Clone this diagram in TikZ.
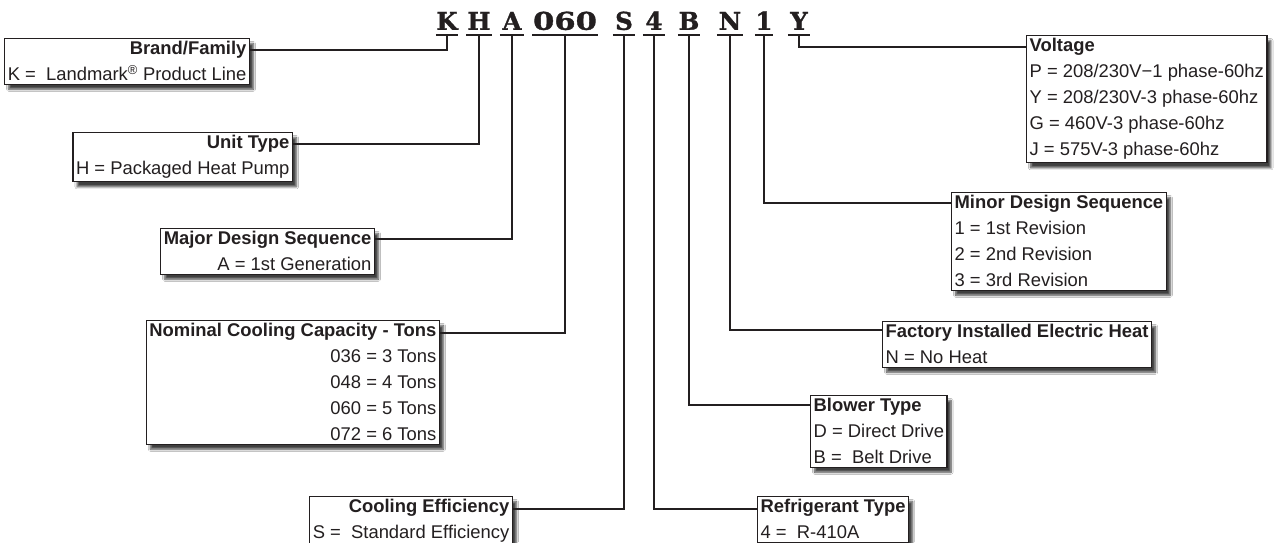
\documentclass[tikz,border=0pt]{standalone}
\usepackage{fontspec}
\setmainfont{Liberation Sans}
\newfontfamily\codefont{DejaVu Serif}[BoldFeatures={FakeBold=1.2}]
\usetikzlibrary{calc,shadows.blur}

\definecolor{ink}{HTML}{231F20}

\tikzset{
  legend/.style={draw=ink, line width=1.3pt, fill=white, text=ink,
    inner xsep=3pt, inner ysep=3pt, font=\fontsize{18.4}{26}\selectfont,
    blur shadow={shadow xshift=4pt, shadow yshift=-5pt, shadow blur steps=7, shadow opacity=75}},
  leftbox/.style={legend, align=right, anchor=north east},
  rightbox/.style={legend, align=left, anchor=north west},
  letter/.style={font=\codefont\bfseries\fontsize{24.5}{24.5}\selectfont, text=ink,
    inner xsep=0pt, inner ysep=5pt, text depth=0pt, anchor=south},
  uline/.style={draw=ink, line width=2.7pt},
  conn/.style={draw=ink, line width=2.2pt},
}

\begin{document}
\begin{tikzpicture}[x=1pt, y=-1pt]
    \clip (0,0) rectangle (1277,542);
    \fill[white] (0,0) rectangle (1277,542);
    % Model number
    \node[letter, minimum width=22pt] (cK) at (447,35) {K};
    \node[letter, minimum width=25pt] (cH) at (479,35) {H};
    \node[letter, minimum width=24pt] (cA) at (512,35) {A};
    \node[letter, minimum width=65pt] (cCap) at (565,35) {\scalebox{1.25}[1]{060}};
    \node[letter, minimum width=22pt] (cS) at (624,35) {S};
    \node[letter, minimum width=22pt] (cR) at (654,35) {4};
    \node[letter, minimum width=22pt] (cB) at (689,35) {B};
    \node[letter, minimum width=26pt] (cN) at (730,35) {N};
    \node[letter, minimum width=18pt] (cM) at (764,35) {1};
    \node[letter, minimum width=22pt] (cY) at (799,35) {Y};
    \foreach \c in {cK,cH,cA,cCap,cS,cR,cB,cN,cM,cY}
        \draw[uline] (\c.south west) -- (\c.south east);
    % Left boxes
    \node[leftbox] (brand) at (250,38) {\textbf{Brand/Family}\\K =\ \ Landmark\textsuperscript{®} Product Line};
    \node[leftbox] (unit) at (293,132) {\textbf{Unit Type}\\H = Packaged Heat Pump};
    \node[leftbox] (major) at (375,228) {\textbf{Major Design Sequence}\\A = 1st Generation};
    \node[leftbox] (nominal) at (440,320) {\textbf{Nominal Cooling Capacity - Tons}\\036 = 3 Tons\\048 = 4 Tons\\060 = 5 Tons\\072 = 6 Tons};
    \node[leftbox] (cooling) at (513,496) {\textbf{Cooling Efficiency}\\S =\ \ Standard Efficiency};
    % Right boxes
    \node[rightbox] (voltage) at (1026,35) {\textbf{Voltage}\\P = 208/230V−1 phase-60hz\\Y = 208/230V-3 phase-60hz\\G = 460V-3 phase-60hz\\J = 575V-3 phase-60hz};
    \node[rightbox] (minor) at (951,192) {\textbf{Minor Design Sequence}\\1 = 1st Revision\\2 = 2nd Revision\\3 = 3rd Revision};
    \node[rightbox] (heat) at (882,321) {\textbf{Factory Installed Electric Heat}\\N = No Heat};
    \node[rightbox] (blower) at (810,395) {\textbf{Blower Type}\\D = Direct Drive\\B =\ \ Belt Drive};
    \node[rightbox] (refrig) at (757,496) {\textbf{Refrigerant Type}\\4 =\ \ R-410A};
    % Leaders
    \draw[conn] (cK.south) |- ($(brand.north east)+(0,12)$);
    \draw[conn] (cH.south) |- ($(unit.north east)+(0,12)$);
    \draw[conn] (cA.south) |- ($(major.north east)+(0,11)$);
    \draw[conn] (cCap.south) |- ($(nominal.north east)+(0,13)$);
    \draw[conn] (cS.south) |- ($(cooling.north east)+(0,13)$);
    \draw[conn] (cR.south) |- ($(refrig.north west)+(0,13)$);
    \draw[conn] (cB.south) |- ($(blower.north west)+(0,10)$);
    \draw[conn] (cN.south) |- ($(heat.north west)+(0,9)$);
    \draw[conn] (cM.south) |- ($(minor.north west)+(0,11)$);
    \draw[conn] (cY.south) |- ($(voltage.north west)+(0,12)$);
\end{tikzpicture}
\end{document}
